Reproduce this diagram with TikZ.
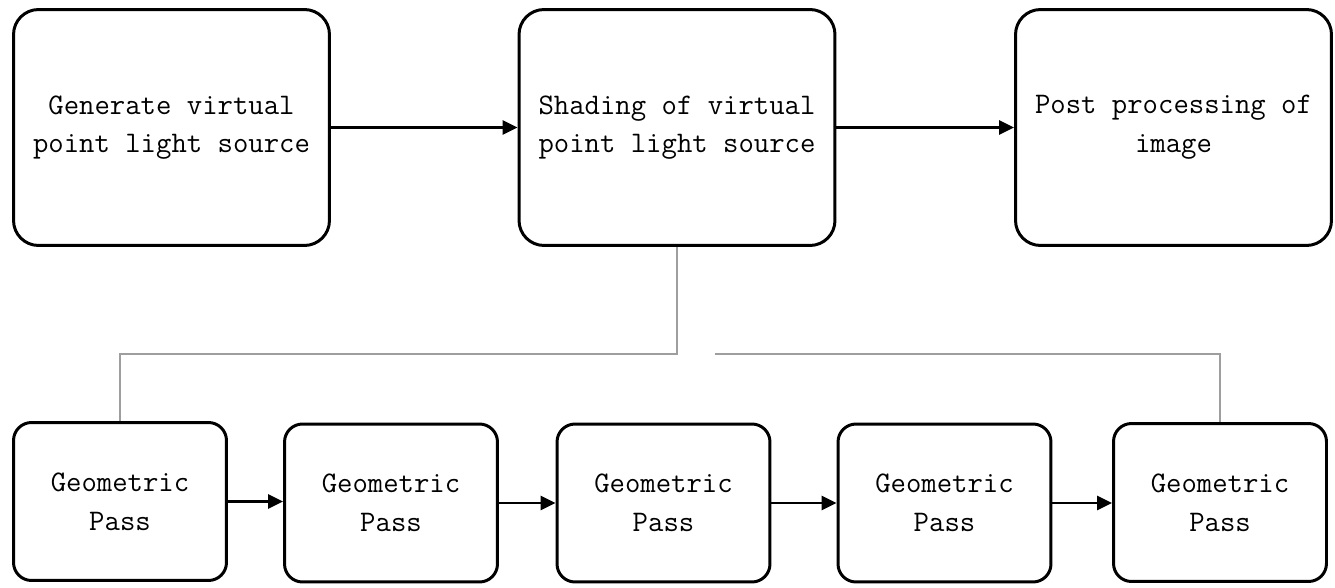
\documentclass[tikz,border=0pt]{standalone}
\usepackage{fontspec}
\usetikzlibrary{arrows.meta}
\begin{document}
\begin{tikzpicture}[x=0.02cm,y=-0.02cm,
  stage/.style={draw=black,line width=1.7pt,rounded corners=0.5cm,fill=white,
    align=center,inner sep=0pt,
    font=\ttfamily\fontsize{17pt}{22pt}\selectfont,
    minimum width=6.32cm,minimum height=4.72cm},
  pass/.style={stage,rounded corners=0.36cm,
    minimum width=4.26cm,minimum height=3.16cm},
  flow/.style={line width=1.35pt,-{Triangle[length=8.5pt,width=8pt]}},
  link/.style={draw=black!38,line width=0.85pt}]
\useasboundingbox (0,0) rectangle (1335,588);

% upper pipeline
\node[stage] (gen)  at (171.5,127.5)  {Generate virtual\\point light source};
\node[stage] (shd)  at (677,127.5)    {Shading of virtual\\point light source};
\node[stage] (post) at (1173.5,127.5) {Post processing of\\image};

\draw[flow] (gen) -- (shd);
\draw[flow] (shd) -- (post);

% lower chain of geometric passes
\node[pass] (p1) at (120,501.5)   {Geometric\\Pass};
\node[pass] (p2) at (391,503)     {Geometric\\Pass};
\node[pass] (p3) at (663.5,503)   {Geometric\\Pass};
\node[pass] (p4) at (944.5,503)   {Geometric\\Pass};
\node[pass] (p5) at (1220,502.5)  {Geometric\\Pass};

\draw[flow] (p1) -- (p1 -| p2.west);
\draw[flow] (p2) -- (p2 -| p3.west);
\draw[flow] (p3) -- (p3 -| p4.west);
\draw[flow] (p4) -- (p4 -| p5.west);

% thin bus linking the shading stage to the passes
\coordinate (busL) at (677,354);
\coordinate (busR) at (715,354);
\draw[link] (shd.south) -- (busL) -| (p1.north);
\draw[link] (busR) -| (p5.north);
\end{tikzpicture}
\end{document}
